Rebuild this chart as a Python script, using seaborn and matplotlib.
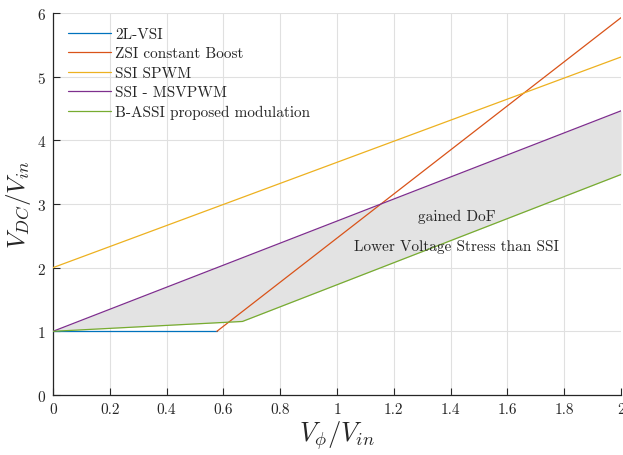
import numpy as np
import pandas as pd
import matplotlib
matplotlib.use("Agg")
import matplotlib.pyplot as plt
import seaborn as sns

# Data
vsi_x = [0.0, 0.577]
vsi_y = [1.0, 1.0]
zsi_x = [0.577, 2.0]
zsi_y = [1.0, 5.928]
ssi_spwm_x = [0.0, 2.0]
ssi_spwm_y = [2.0, 5.31]
ssi_msv_x = [0.0, 2.0]
ssi_msv_y = [1.0, 4.464]
bassi_x = [0.0, 0.667, 2.0]
bassi_y = [1.0, 1.155, 3.464]

labels = ["2L-VSI", "ZSI constant Boost", "SSI SPWM", "SSI - MSVPWM",
          "B-ASSI proposed modulation"]
colors = ["#0072BD", "#D95319", "#EDB120", "#7E2F8E", "#77AC30"]

x_ticks = [0, 0.2, 0.4, 0.6, 0.8, 1, 1.2, 1.4, 1.6, 1.8, 2]
x_ticklabels = ["0", "0.2", "0.4", "0.6", "0.8", "1", "1.2", "1.4", "1.6", "1.8", "2"]
y_ticks = [0, 1, 2, 3, 4, 5, 6]

sns.set_theme(style="white")
plt.rcParams["font.family"] = ["serif"]
plt.rcParams["font.serif"] = ["cmr10", "DejaVu Serif"]
plt.rcParams["mathtext.fontset"] = "cm"
plt.rcParams["axes.formatter.use_mathtext"] = True

fig = plt.figure(figsize=(6.23, 4.56), dpi=100)
ax = fig.add_axes([0.085, 0.1316, 0.912, 0.8377])

# shaded area between MSVPWM and B-ASSI
xs = np.array(sorted(set(ssi_msv_x + bassi_x)))
upper = np.interp(xs, ssi_msv_x, ssi_msv_y)
lower = np.interp(xs, bassi_x, bassi_y)
ax.fill_between(xs, lower, upper, color="#e3e3e3", lw=0, zorder=1)

series = [(vsi_x, vsi_y), (zsi_x, zsi_y), (ssi_spwm_x, ssi_spwm_y),
          (ssi_msv_x, ssi_msv_y), (bassi_x, bassi_y)]
for (sx, sy), lab, c in zip(series, labels, colors):
    df = pd.DataFrame({"x": sx, "y": sy})
    sns.lineplot(data=df, x="x", y="y", ax=ax, color=c, lw=0.9, label=lab,
                 zorder=3, sort=False)

ax.set_xlim(0, 2)
ax.set_ylim(0, 6)
ax.set_xticks(x_ticks)
ax.set_xticklabels(x_ticklabels)
ax.set_yticks(y_ticks)
ax.grid(True, color="#e0e0e0", lw=0.8, zorder=0)
ax.set_axisbelow(True)
for s in ["top", "right"]:
    ax.spines[s].set_visible(False)
for s in ["left", "bottom"]:
    ax.spines[s].set_color("#262626")
    ax.spines[s].set_linewidth(0.9)
ax.tick_params(direction="in", length=5, width=0.8, color="#262626",
               labelsize=11, labelcolor="#262626", left=True, bottom=True, pad=5)

ax.set_xlabel(r"$V_{\phi}/V_{in}$", fontsize=19, labelpad=2)
ax.set_ylabel(r"$V_{DC}/V_{in}$", fontsize=18)
ax.yaxis.set_label_coords(-0.036, 0.5)

ax.text(1.42, 2.81, "gained DoF", fontsize=11, ha="center", va="center",
        color="#262626", zorder=4)
ax.text(1.42, 2.34, "Lower Voltage Stress than SSI", fontsize=11, ha="center",
        va="center", color="#262626", zorder=4)

leg = ax.legend(loc="upper left", frameon=False, fontsize=11,
                handlelength=2.8, handletextpad=0.3, labelspacing=0.38,
                bbox_to_anchor=(0.005, 0.995), borderaxespad=0.4)
for t in leg.get_texts():
    t.set_color("#262626")

fig.savefig("out.png", dpi=100)
